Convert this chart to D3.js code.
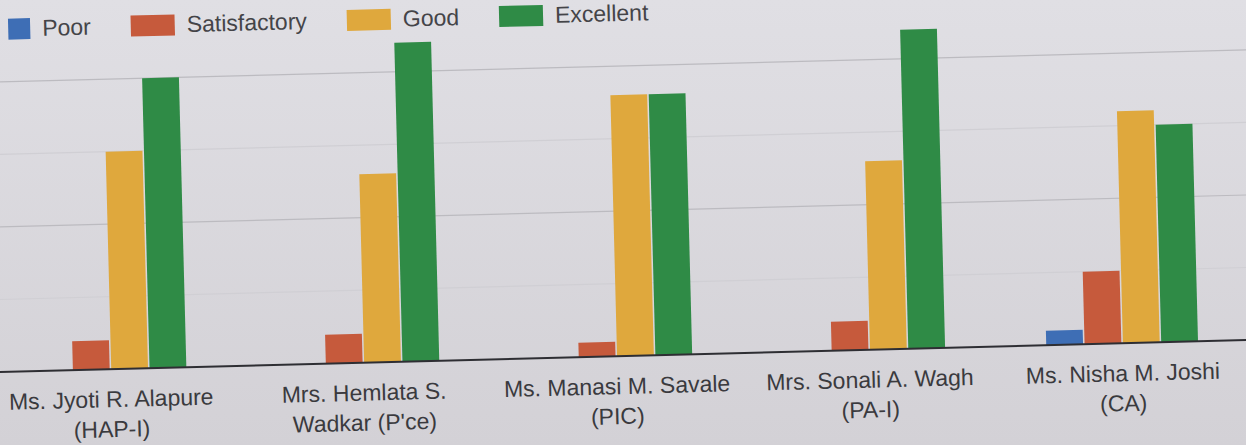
<!DOCTYPE html>
<html>
<head>
<meta charset="utf-8">
<script src="https://cdn.jsdelivr.net/npm/d3@7"></script>
<style>
  html, body { margin: 0; padding: 0; background: #dcdbe0; overflow: hidden; }
  svg { display: block; }
</style>
</head>
<body>
<svg id="grafico"></svg>
<script>
var profesores = [
    ["Ms. Jyoti R. Alapure", "(HAP-I)"],
    ["Mrs. Hemlata S.", "Wadkar (P'ce)"],
    ["Ms. Manasi M. Savale", "(PIC)"],
    ["Mrs. Sonali A. Wagh", "(PA-I)"],
    ["Ms. Nisha M. Joshi", "(CA)"]
];
var series = ["Poor", "Satisfactory", "Good", "Excellent"];
var poor = [0, 0, 0, 0, 2];
var satisfactory = [4, 4, 2, 4, 10];
var good = [30, 26, 36, 26, 32];
var excellent = [40, 44, 36, 44, 30];
var lineasGuia = [10, 20, 30, 40];

var anchura = 1246,
    altura = 445,
    base = 372;

var colores = ["#3e6eb5", "#c65a3c", "#dfa83d", "#2f8b46"];
var fuente = "'Liberation Sans', Arial, sans-serif";

// tabla para d3
var datos = profesores.map(function (p, i) {
    return { nombre: p, valores: [poor[i], satisfactory[i], good[i], excellent[i]] };
});

var svg = d3.select("#grafico")
    .attr("width", anchura)
    .attr("height", altura);

// fondo con un poco de sombra como en la foto
var grad = svg.append("defs").append("linearGradient")
    .attr("id", "fondo")
    .attr("x1", 0).attr("y1", 0).attr("x2", 0).attr("y2", 1);
grad.append("stop").attr("offset", "0%").attr("stop-color", "#e0dfe4");
grad.append("stop").attr("offset", "100%").attr("stop-color", "#d3d1d6");
svg.append("rect")
    .attr("width", anchura)
    .attr("height", altura)
    .attr("fill", "url(#fondo)");

svg.select("defs").append("clipPath")
    .attr("id", "recorte")
    .append("rect")
    .attr("x", 17).attr("y", 0)
    .attr("width", anchura).attr("height", 60);

// la foto esta algo inclinada
var g = svg.append("g")
    .attr("transform", "rotate(-1.47, 0, " + base + ")");

var x0 = d3.scaleBand()
    .domain(d3.range(profesores.length))
    .range([-16, 1249])
    .paddingInner(0.4)
    .paddingOuter(0.2);

var x1 = d3.scaleBand()
    .domain(series)
    .range([0, x0.bandwidth()])
    .paddingInner(0.04);

var y = d3.scaleLinear()
    .domain([0, 50])
    .range([base, base - 50 * 7.25]);

// lineas de guia
g.append("g")
    .selectAll("line")
    .data(lineasGuia)
    .join("line")
    .attr("x1", -20)
    .attr("x2", anchura + 20)
    .attr("y1", function (d) { return y(d); })
    .attr("y2", function (d) { return y(d); })
    .attr("stroke", function (d) { return d % 20 === 0 ? "#bcbbc0" : "#d0cfd4"; })
    .attr("stroke-width", 1.2);

// barras
var grupos = g.selectAll(".grupo")
    .data(datos)
    .join("g")
    .attr("class", "grupo")
    .attr("transform", function (d, i) { return "translate(" + x0(i) + ",0)"; });

grupos.selectAll("rect")
    .data(function (d) { return d.valores.map(function (v, j) { return { serie: series[j], valor: v, j: j }; }); })
    .join("rect")
    .attr("x", function (d) { return x1(d.serie); })
    .attr("width", x1.bandwidth())
    .attr("y", function (d) { return y(d.valor); })
    .attr("height", function (d) { return y(0) - y(d.valor); })
    .attr("fill", function (d) { return colores[d.j]; });

// eje base
g.append("line")
    .attr("x1", -20)
    .attr("x2", anchura + 20)
    .attr("y1", y(0))
    .attr("y2", y(0))
    .attr("stroke", "#2e2e33")
    .attr("stroke-width", 2);

// etiquetas en dos lineas
var etiquetas = g.selectAll(".etiqueta")
    .data(datos)
    .join("text")
    .attr("class", "etiqueta")
    .attr("x", function (d, i) { return x0(i) + x0.bandwidth() / 2; })
    .attr("y", 410)
    .attr("text-anchor", "middle")
    .style("font", "23px " + fuente)
    .style("fill", "#3a3a3e");

etiquetas.selectAll("tspan")
    .data(function (d) { return d.nombre; })
    .join("tspan")
    .attr("x", function () { return d3.select(this.parentNode).attr("x"); })
    .attr("dy", function (d, k) { return k === 0 ? 0 : 30; })
    .text(function (d) { return d; });

// leyenda
var leyenda = g.append("g")
    .attr("clip-path", "url(#recorte)");
var posX = -5;
series.forEach(function (s, j) {
    leyenda.append("rect")
        .attr("x", posX)
        .attr("y", 19)
        .attr("width", 44)
        .attr("height", 21)
        .attr("fill", colores[j]);
    var t = leyenda.append("text")
        .attr("x", posX + 56)
        .attr("y", 37)
        .style("font", "23px " + fuente)
        .style("fill", "#444448")
        .text(s);
    posX = posX + 56 + t.node().getComputedTextLength() + 40;
});
</script>
</body>
</html>
